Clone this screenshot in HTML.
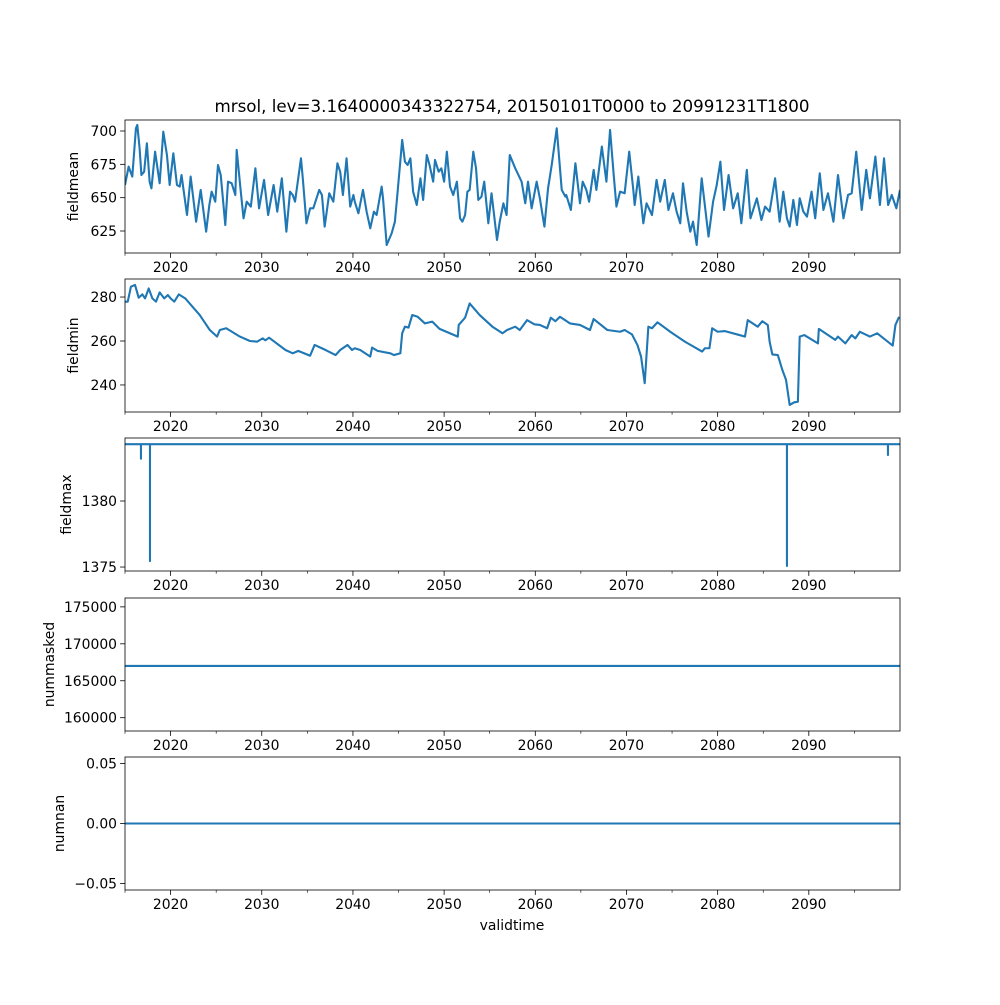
<!DOCTYPE html>
<html><head><meta charset="utf-8">
<style>
html,body{margin:0;padding:0;background:#fff;}
svg text{font-family:"DejaVu Sans","Liberation Sans",sans-serif;fill:#000;}
</style></head>
<body>
<svg id="fig" width="1000" height="1000" viewBox="0 0 1000 1000" xmlns="http://www.w3.org/2000/svg">
<rect width="1000" height="1000" fill="#fff"/>
<text x="512" y="112" font-size="16.7" text-anchor="middle">mrsol, lev=3.1640000343322754, 20150101T0000 to 20991231T1800</text>
<text x="512" y="930" font-size="13.9" text-anchor="middle">validtime</text>
</svg>
<script>
// ---- data ----
const meanYears=[2015.0,2015.4,2015.8,2016.2,2016.35,2016.6,2016.8,2017.1,2017.4,2017.7,2017.9,2018.3,2018.8,2019.2,2019.6,2019.9,2020.3,2020.7,2021.0,2021.2,2021.4,2021.8,2022.2,2022.8,2023.3,2023.9,2024.25,2024.5,2024.9,2025.2,2025.5,2026.0,2026.3,2026.7,2027.1,2027.25,2027.7,2028.0,2028.35,2028.8,2029.3,2029.7,2030.25,2030.7,2031.3,2031.7,2032.2,2032.7,2033.1,2033.4,2033.65,2034.3,2034.5,2034.9,2035.3,2035.65,2036.3,2036.6,2036.9,2037.4,2037.85,2038.3,2038.6,2038.9,2039.3,2039.7,2040.05,2040.2,2040.6,2041.1,2041.5,2041.9,2042.3,2042.6,2043.15,2043.3,2043.7,2044.25,2044.6,2044.9,2045.4,2045.7,2046.0,2046.3,2046.6,2047.0,2047.4,2047.7,2048.1,2048.4,2048.8,2049.0,2049.4,2049.7,2050.0,2050.3,2050.65,2051.0,2051.4,2051.75,2052.0,2052.3,2052.55,2052.8,2053.2,2053.5,2053.75,2054.1,2054.4,2054.85,2055.2,2055.8,2056.1,2056.5,2056.85,2057.2,2057.8,2058.5,2058.9,2059.2,2059.6,2060.15,2060.5,2061.0,2061.4,2061.8,2062.35,2062.9,2063.3,2063.4,2063.9,2064.4,2064.9,2065.2,2065.6,2065.9,2066.4,2066.7,2067.3,2067.8,2068.2,2068.6,2068.9,2069.3,2069.8,2070.3,2070.75,2070.9,2071.3,2071.85,2072.2,2072.8,2073.3,2073.7,2074.2,2074.6,2075.1,2075.5,2075.9,2076.2,2076.6,2077.0,2077.3,2077.7,2078.25,2079.0,2079.5,2079.9,2080.3,2080.7,2081.2,2081.7,2082.2,2082.6,2083.2,2083.6,2084.3,2084.8,2085.2,2085.7,2086.3,2086.8,2087.2,2087.6,2087.9,2088.3,2088.7,2089.0,2089.4,2089.8,2090.3,2090.7,2091.2,2091.6,2092.1,2092.7,2093.2,2093.8,2094.3,2094.7,2095.2,2095.8,2096.3,2096.7,2097.3,2097.8,2098.25,2098.7,2099.1,2099.6,2100.0];
const meanValues=[659.5,673.3,665.8,702,704.5,687,667,669.5,690.8,662,657,684.5,660.8,699.5,682,659.5,683.3,659.5,658.3,667,657,637,665.8,632,655.8,624.5,644.5,654.5,647,674.5,667,629.5,662,660.8,652,685.8,654.5,634.5,647,643.3,672,642,663.3,637,659.5,639.5,664.5,624.5,654.5,652,647,679.5,664.5,630.8,642,642,655.8,652,628.3,653.3,647,675.8,669.5,652,679.5,643.3,652,647,638.3,655.8,639.5,627,639.5,637,658.3,649.5,614.5,623.3,632,654.5,693.3,677,674.5,679.5,654.5,644.5,664.5,648.3,682,674.5,662,678.3,669.5,672,662,684.5,658.3,652,662,634.5,632,637,654.5,655.8,684.5,672,648.3,650.8,662,630.8,653.3,618.3,632,645.8,637,682,672,662,645.8,662,642,662,649.5,628.3,657,674.5,702,655.8,650.8,652,640.8,675.8,645.8,662,655.8,647,670.8,655.8,688.3,662,700.8,667,643.3,654.5,653.3,684.5,655.8,644.5,665.8,630.8,645.8,637,663.3,647,663.3,640.8,653.3,639.5,630.8,660.8,639.5,624.5,632,614.5,664.5,620.8,647,659.5,677,640.8,667,642,653.3,630.8,670.8,634.5,649.5,633.3,643.3,639.5,664.5,632,654.5,634.5,628.3,648.3,629.5,649.5,639.5,635.8,654.5,634.5,668.3,640.8,653.3,632,667,634.5,652,653.3,684.5,640.8,670.8,649.5,680.8,644.5,679.5,644.5,652,642,655.8];
const minYears=[2015.0,2015.3,2015.65,2016.1,2016.5,2016.9,2017.2,2017.6,2018.0,2018.4,2018.8,2019.3,2019.7,2020.0,2020.4,2020.9,2021.6,2023.2,2024.3,2025.1,2025.4,2026.1,2027.6,2028.7,2029.5,2030.1,2030.4,2030.8,2032.6,2033.4,2034.0,2035.3,2035.8,2037.0,2038.1,2038.6,2039.4,2039.9,2040.2,2040.8,2041.9,2042.1,2042.7,2044.1,2044.5,2045.2,2045.4,2045.7,2046.1,2046.5,2047.1,2047.9,2048.7,2049.5,2051.5,2051.6,2052.3,2052.8,2053.9,2055.3,2056.4,2056.9,2057.8,2058.3,2059.1,2059.9,2060.5,2061.3,2061.7,2062.2,2062.7,2063.8,2064.9,2066.0,2066.4,2067.9,2069.3,2069.8,2070.6,2071.2,2071.6,2072.0,2072.4,2072.8,2073.4,2074.8,2076.4,2078.3,2078.6,2079.1,2079.4,2080.0,2080.8,2082.4,2083.0,2083.3,2084.4,2084.9,2085.5,2085.7,2086.0,2086.6,2087.1,2087.5,2087.9,2088.4,2088.8,2089.0,2089.5,2091.0,2091.1,2092.9,2093.2,2094.0,2094.7,2095.1,2095.6,2096.7,2097.5,2099.2,2099.5,2099.9];
const minValues=[277.9,277.9,284.7,285.5,279.7,281.2,279.4,283.9,279.4,277.9,282.1,279.4,280.9,279.4,277.9,281.2,279.4,271.8,265,262,265,265.8,262,260,259.7,261.2,260.3,261.5,255.9,254.4,255.5,253.3,258.2,255.9,253.6,255.9,258.2,255.9,256.7,255.9,252.9,257,255.5,254.4,253.6,254.4,263.5,266.5,266.1,271.8,271,268,268.8,265.5,262,267.3,270.6,277.1,271.8,266.5,263.5,265,266.5,265,269.5,267.6,267.3,265.8,270.6,269,271,268,267.3,265,270,265,264.2,265,263,258.2,252.9,240.8,266.5,265.8,268.5,264.2,259.7,255.2,256.7,256.7,265.8,264.2,264.5,262.7,262,269.5,266.5,269,267.3,259.7,253.9,253.6,246.8,242.3,230.9,232.1,232.4,262,262.7,258.9,265.5,260.5,262,258.9,262.7,261.2,264.2,262,263.5,257.9,267.3,271];
const maxBaseline=1384.3;
const maxSpikeYears=[2016.75,2017.74,2087.6,2098.68];
const maxSpikeValues=[1383.2,1375.45,1375.08,1383.48];
const maskedValue=167000;
const nanValue=0;
const xMajorTicks=[2020,2030,2040,2050,2060,2070,2080,2090];
const xMinorTicks=[2015,2025,2035,2045,2055,2065,2075,2085,2095];
const meanTicks=[625,650,675,700];
const minTicks=[240,260,280];
const maxTicks=[1375,1380];
const maskedTicks=[160000,165000,170000,175000];
const nanTicks=[-0.05,0,0.05];
const maskedTickLabels=["160000","165000","170000","175000"];
const nanTickLabels=["−0.05","0.00","0.05"];

// ---- layout ----
const svg=document.getElementById('fig');
const NS='http://www.w3.org/2000/svg';
const L=125,R=900,X0=2015,X1=2100;
const xs=y=>L+(y-X0)/(X1-X0)*(R-L);
const COLOR='#1f77b4';
function mk(tag,attrs,parent){const e=document.createElementNS(NS,tag);for(const k in attrs)e.setAttribute(k,attrs[k]);(parent||svg).appendChild(e);return e;}

function panel(name,top,bot,ymin,ymax,ticks,labels,ylabel,ylabelX){
  const g=mk('g',{});
  
  
  const ys=v=>bot-(v-ymin)/(ymax-ymin)*(bot-top);
  const cp=mk('clipPath',{id:'cp-'+name},g);
  mk('rect',{x:L,y:top,width:R-L,height:bot-top},cp);
  const ticksG=mk('g',{},g);
  ticks.forEach((t,i)=>{
    const y=ys(t);
    const ln=mk('line',{x1:L-4.9,x2:L,y1:y,y2:y,stroke:'#000','stroke-width':0.8},ticksG);
    
    
    const tx=mk('text',{x:L-8,y:y+5,'font-size':13.9,'text-anchor':'end'},ticksG);
    
    
    tx.textContent=labels?labels[i]:String(t);
  });
  xMajorTicks.forEach(t=>{
    const x=xs(t);
    const ln=mk('line',{x1:x,x2:x,y1:bot,y2:bot+4.9,stroke:'#000','stroke-width':0.8},ticksG);
    
    
    const tx=mk('text',{x:x,y:bot+19,'font-size':13.9,'text-anchor':'middle'},ticksG);
    
    
    tx.textContent=String(t);
  });
  xMinorTicks.forEach(t=>{
    const x=xs(t);
    const ln=mk('line',{x1:x,x2:x,y1:bot,y2:bot+2.8,stroke:'#000','stroke-width':0.6},ticksG);
    
    
  });
  const yl=mk('text',{x:0,y:0,'font-size':13.9,'text-anchor':'middle',transform:`translate(${ylabelX},${(top+bot)/2}) rotate(-90)`},g);
  
  
  yl.textContent=ylabel;
  return {g,ys,clip:'url(#cp-'+name+')',top,bot};
}
function frame(p,name){
  const r=mk('rect',{x:L,y:p.top,width:R-L,height:p.bot-p.top,fill:'none',stroke:'#000','stroke-width':0.8},p.g);
  
  
}
function series(p,name,xArr,yArr){
  let d='';
  for(let i=0;i<xArr.length;i++)d+=(i?'L':'M')+xs(xArr[i]).toFixed(2)+','+p.ys(yArr[i]).toFixed(2);
  const pa=mk('path',{d:d,fill:'none',stroke:COLOR,'stroke-width':2.1,'stroke-linejoin':'round','clip-path':p.clip},p.g);
  
  
}

const p1=panel('fieldmean',120,253,608.5,708.25,meanTicks,null,'fieldmean',78);
series(p1,'fieldmean',meanYears,meanValues);frame(p1,'fieldmean');

const p2=panel('fieldmin',279,412,227.7,288.2,minTicks,null,'fieldmin',78);
series(p2,'fieldmin',minYears,minValues);frame(p2,'fieldmin');

const p3=panel('fieldmax',438,571,1374.7,1384.77,maxTicks,null,'fieldmax',71);
{
  const xa=[X0],ya=[maxBaseline];
  maxSpikeYears.forEach((y,i)=>{xa.push(y,y,y);ya.push(maxBaseline,maxSpikeValues[i],maxBaseline);});
  xa.push(X1);ya.push(maxBaseline);
  series(p3,'fieldmax',xa,ya);
}
frame(p3,'fieldmax');

const p4=panel('nummasked',598,731,158200,176200,maskedTicks,maskedTickLabels,'nummasked',54);
series(p4,'nummasked',[X0,X1],[maskedValue,maskedValue]);frame(p4,'nummasked');

const p5=panel('numnan',757,890,-0.0555,0.0555,nanTicks,nanTickLabels,'numnan',64);
series(p5,'numnan',[X0,X1],[nanValue,nanValue]);frame(p5,'numnan');
</script>
</body></html>
